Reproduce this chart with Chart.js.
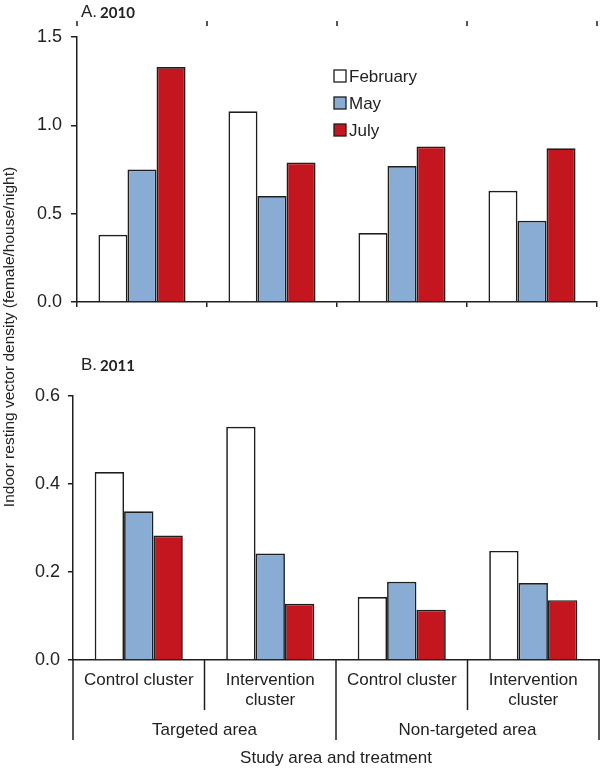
<!DOCTYPE html>
<html>
<head>
<meta charset="utf-8">
<script src="https://cdn.jsdelivr.net/npm/chart.js@4.4.1/dist/chart.umd.min.js"></script>
<style>
  html, body { margin: 0; padding: 0; background: #fff; }
  #wrap { position: relative; width: 600px; height: 768px; }
  #wrap canvas { position: absolute; left: 0; top: 0; }
</style>
</head>
<body>
<div id="wrap">
  <canvas id="chart2010" width="600" height="768"></canvas>
  <canvas id="chart2011" width="600" height="768"></canvas>
</div>
<script>
// categories and groups
const clusters = [['Control cluster'], ['Intervention', 'cluster'], ['Control cluster'], ['Intervention', 'cluster']];
const areas = ['Targeted area', 'Non-targeted area'];
const months = ['February', 'May', 'July'];

// A. 2010 (female/house/night)
const feb2010 = [0.38, 1.08, 0.39, 0.63];
const may2010 = [0.75, 0.60, 0.77, 0.46];
const jul2010 = [1.33, 0.79, 0.88, 0.87];
const ticks2010 = [0, 0.5, 1.0, 1.5];

// B. 2011
const feb2011 = [0.427, 0.530, 0.143, 0.248];
const may2011 = [0.338, 0.242, 0.178, 0.175];
const jul2011 = [0.283, 0.128, 0.114, 0.136];
const ticks2011 = [0, 0.2, 0.4, 0.6];

const fills = ['#ffffff', '#88acd3', '#c4161f'];
const ink = '#1e1e1e';
const sans = '"Liberation Sans", Arial, Helvetica, sans-serif';

function makeSets(rows) {
  return rows.map((vals, i) => ({
    label: months[i],
    data: vals,
    backgroundColor: fills[i],
    borderColor: ink,
    borderWidth: 1.7,
    categoryPercentage: 0.67,
    barPercentage: 1.0,
  }));
}

function boundaries(x, n) {
  const out = [];
  for (let i = 0; i <= n; i++) out.push(x.left + (x.right - x.left) * i / n);
  return out;
}

function panelTitle(ctx, letter, year, x, y) {
  ctx.save();
  ctx.fillStyle = '#222';
  ctx.textBaseline = 'middle';
  ctx.textAlign = 'left';
  ctx.font = '17px ' + sans;
  ctx.fillText(letter, x, y);
  const w = ctx.measureText(letter).width;
  ctx.font = 'bold 15px Lato, "Open Sans", sans-serif';
  ctx.fillText(year, x + w + 3, y + 1);
  ctx.restore();
}

const decor2010 = {
  id: 'decor2010',
  afterDraw(chart) {
    const ctx = chart.ctx;
    const x = chart.scales.x;
    panelTitle(ctx, 'A.', '2010', 81, 12);

    // small tick marks above the panel
    ctx.save();
    ctx.strokeStyle = ink;
    ctx.lineWidth = 1.5;
    boundaries(x, clusters.length).forEach((bx) => {
      ctx.beginPath();
      ctx.moveTo(bx, 21);
      ctx.lineTo(bx, 26);
      ctx.stroke();
    });

    // legend
    ctx.font = '17px ' + sans;
    ctx.textBaseline = 'middle';
    chart.data.datasets.forEach((ds, i) => {
      const cy = 76 + i * 27;
      ctx.fillStyle = ds.backgroundColor;
      ctx.fillRect(334, cy - 6, 12, 12);
      ctx.lineWidth = 1.3;
      ctx.strokeStyle = ink;
      ctx.strokeRect(334, cy - 6, 12, 12);
      ctx.fillStyle = '#222';
      ctx.fillText(ds.label, 349, cy + 1);
    });

    // shared y axis title
    ctx.translate(10, 337);
    ctx.rotate(-Math.PI / 2);
    ctx.textAlign = 'center';
    ctx.font = '15.5px ' + sans;
    ctx.fillText('Indoor resting vector density (female/house/night)', 0, 0);
    ctx.restore();
  },
};

const decor2011 = {
  id: 'decor2011',
  afterDraw(chart) {
    const ctx = chart.ctx;
    const x = chart.scales.x;
    const base = x.top;
    panelTitle(ctx, 'B.', '2011', 81, 365);

    const b = boundaries(x, clusters.length);
    ctx.save();
    ctx.strokeStyle = ink;
    ctx.lineWidth = 1.5;
    b.forEach((bx, i) => {
      const long = i % 2 === 0;
      ctx.beginPath();
      ctx.moveTo(bx, base);
      ctx.lineTo(bx, base + (long ? 80 : 50));
      ctx.stroke();
    });

    ctx.fillStyle = '#222';
    ctx.font = '17px ' + sans;
    ctx.textAlign = 'center';
    ctx.textBaseline = 'middle';
    areas.forEach((a, i) => {
      ctx.fillText(a, (b[i * 2] + b[i * 2 + 2]) / 2, base + 70);
    });
    ctx.fillText('Study area and treatment', (b[0] + b[b.length - 1]) / 2, base + 98);
    ctx.restore();
  },
};

function yAxis(tickVals, max, width, tickLen, pad) {
  return {
    min: 0,
    max: max,
    afterBuildTicks: (s) => { s.ticks = tickVals.map((v) => ({ value: v })); },
    afterFit: (s) => { s.width = width; },
    grid: { display: true, drawOnChartArea: false, drawTicks: true, tickLength: tickLen, color: ink, lineWidth: 1.5 },
    border: { display: true, color: ink, width: 1.5 },
    ticks: {
      color: '#222',
      padding: pad,
      font: { family: sans, size: 18 },
      callback: (v) => Number(v).toFixed(1),
    },
  };
}

new Chart(document.getElementById('chart2010'), {
  type: 'bar',
  data: { labels: clusters, datasets: makeSets([feb2010, may2010, jul2010]) },
  options: {
    responsive: false,
    animation: false,
    layout: { padding: { top: 37, right: 3, left: 0, bottom: 466 } },
    plugins: { legend: { display: false }, tooltip: { enabled: false } },
    scales: {
      x: {
        offset: true,
        afterFit: (s) => { s.height = 0; },
        grid: { display: true, offset: true, drawOnChartArea: false, drawTicks: true, tickLength: 5, color: ink, lineWidth: 1.5 },
        border: { display: true, color: ink, width: 1.5 },
        ticks: { display: false },
      },
      y: yAxis(ticks2010, 1.5, 77, 6, 9),
    },
  },
  plugins: [decor2010],
});

new Chart(document.getElementById('chart2011'), {
  type: 'bar',
  data: { labels: clusters, datasets: makeSets([feb2011, may2011, jul2011]) },
  options: {
    responsive: false,
    animation: false,
    layout: { padding: { top: 396, right: 1, left: 0, bottom: 0 } },
    plugins: { legend: { display: false }, tooltip: { enabled: false } },
    scales: {
      x: {
        offset: true,
        afterFit: (s) => { s.height = 108; },
        grid: { display: false, drawTicks: false },
        border: { display: true, color: ink, width: 1.5 },
        ticks: {
          color: '#222',
          padding: 11,
          maxRotation: 0,
          autoSkip: false,
          font: { family: sans, size: 17, lineHeight: 1.15 },
        },
      },
      y: yAxis(ticks2011, 0.6, 73, 5, 8),
    },
  },
  plugins: [decor2011],
});
</script>
</body>
</html>
